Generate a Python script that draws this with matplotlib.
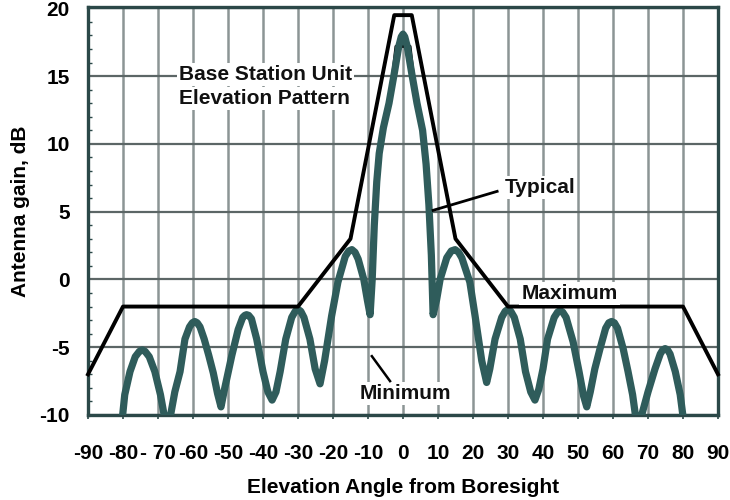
import matplotlib
matplotlib.use("Agg")
import matplotlib.pyplot as plt

plt.rcParams['font.family'] = ['Liberation Sans', 'DejaVu Sans']

# ---- data ----
x_ticks = [-90, -80, -70, -60, -50, -40, -30, -20, -10, 0, 10, 20, 30, 40, 50, 60, 70, 80, 90]
x_tick_labels = ["-90", "-80", "- 70", "-60", "-50", "-40", "-30", "-20", "-10", "0",
                 "10", "20", "30", "40", "50", "60", "70", "80", "90"]
y_ticks = [-10, -5, 0, 5, 10, 15, 20]
y_tick_labels = ["-10", "-5", "0", "5", "10", "15", "20"]

max_angle = [-90, -80, -30, -15, -2.5, 2.5, 15, 30, 80, 90]
max_gain = [-7, -2, -2, 3, 19.5, 19.5, 3, -2, -2, -7]

min_angle = [-3.6, -2.0, 2.0, 3.6]
min_gain = [13.6, 17.2, 17.2, 13.6]

typ_angle = [
    -80.3, -79.5, -78.0, -76.5, -75.3, -74.5, -73.7, -72.5, -70.9, -69.3, -67.2,
    -66.4, -65.2, -63.7, -62.3, -61.0, -60.2, -59.5, -58.8, -58.0, -56.8, -55.5, -54.2, -53.0, -52.0,
    -51.0, -48.9, -47.1, -45.8, -45.2, -44.7, -44.1, -43.3, -41.8, -40.0, -38.6, -37.4,
    -36.3, -35.1, -33.5, -31.8, -30.8, -30.0, -29.2, -28.3, -26.6, -25.1, -23.7,
    -22.4, -20.4, -18.6, -16.5, -15.5, -14.6, -13.7, -12.8, -11.2, -10.2, -9.4,
    -8.8, -8.2, -7.5, -6.8, -5.6, -4.0, -2.5, -1.2, -0.5, 0.0, 0.5, 1.2, 2.5, 4.0, 5.6, 6.6, 7.4,
    8.1, 8.6,
    9.6, 10.6, 12.5, 13.8, 14.9, 15.9, 16.8, 19.1, 20.6, 22.5, 23.9,
    24.8, 26.3, 28.2, 29.2, 30.0, 30.8, 31.8, 33.5, 35.0, 36.5, 37.7,
    38.8, 40.0, 41.3, 43.2, 44.2, 44.9, 45.6, 46.6, 48.6, 50.3, 51.6, 52.5,
    53.5, 54.8, 56.3, 57.9, 58.8, 59.6, 60.4, 61.3, 62.9, 64.3, 65.6, 66.4, 67.1,
    68.2, 70.0, 72.0, 73.5, 74.2, 74.9, 75.6, 76.3, 77.8, 79.2, 80.2,
]
typ_gain = [
    -10.5, -8.5, -6.8, -5.7, -5.3, -5.2, -5.3, -5.7, -6.8, -8.5, -11.5,
    -10.0, -8.3, -6.8, -4.4, -3.5, -3.2, -3.1, -3.2, -3.5, -4.4, -5.6, -6.9, -8.4, -9.4,
    -8.1, -5.6, -3.7, -2.8, -2.65, -2.6, -2.65, -2.9, -4.4, -6.8, -8.3, -8.9,
    -8.3, -6.8, -4.4, -2.8, -2.35, -2.2, -2.35, -2.8, -4.4, -6.6, -7.7,
    -6.0, -2.7, -0.2, 1.7, 2.1, 2.2, 2.0, 1.5, 0.0, -1.5, -2.6,
    0.0, 4.0, 7.2, 9.3, 11.2, 13.0, 15.2, 17.2, 17.9, 18.1, 17.9, 17.2, 15.2, 13.0, 11.0, 8.5, 5.5,
    1.8, -2.6,
    -1.5, 0.0, 1.6, 2.1, 2.2, 2.0, 1.6, -0.2, -2.7, -6.0, -7.6,
    -6.6, -4.4, -2.8, -2.35, -2.2, -2.35, -2.8, -4.4, -6.8, -8.3, -8.9,
    -8.1, -6.6, -4.4, -2.8, -2.4, -2.3, -2.4, -2.8, -4.6, -6.8, -8.6, -9.4,
    -8.3, -6.6, -5.1, -3.6, -3.2, -3.1, -3.2, -3.6, -5.1, -6.8, -8.5, -10.0, -11.5,
    -10.0, -8.3, -6.6, -5.5, -5.2, -5.1, -5.2, -5.5, -6.8, -8.5, -10.5,
]

# ---- figure ----
fig = plt.figure(figsize=(7.3, 5.0), dpi=100)
ax = fig.add_axes([88 / 730, 1 - 415 / 500, 630 / 730, 408 / 500])

frame_col = '#2b4848'
teal = '#2f5c5b'

ax.set_xlim(-90, 90)
ax.set_ylim(-10, 20.1)

ax.set_xticks(x_ticks)
ax.set_xticklabels(x_tick_labels)
ax.set_yticks(y_ticks)
ax.set_yticklabels(y_tick_labels)
ax.set_yticks(range(-10, 21), minor=True)

ax.xaxis.grid(True, color='#8c9595', linewidth=1.8)
ax.yaxis.grid(True, color='#5c6666', linewidth=1.6)
ax.set_axisbelow(True)

for s in ax.spines.values():
    s.set_color(frame_col)
    s.set_linewidth(2.4)

ax.tick_params(axis='x', which='major', length=3, width=1.2, color=frame_col,
               direction='out', pad=18, labelsize=15)
ax.tick_params(axis='y', which='major', length=0, pad=13, labelsize=15)
ax.tick_params(axis='y', which='minor', length=3, width=1, color=frame_col, direction='in')
for lab in ax.get_xticklabels() + ax.get_yticklabels():
    lab.set_fontweight('bold')

ax.set_xlabel("Elevation Angle from Boresight", fontsize=15, fontweight='bold', labelpad=11)
ax.set_ylabel("Antenna gain, dB", fontsize=15, fontweight='bold', labelpad=7)

# minimum envelope (mostly hidden under typical curve)
ax.plot(min_angle, min_gain, color='black', linewidth=2.2, zorder=3)
# typical pattern
ax.plot(typ_angle, typ_gain, color=teal, linewidth=5.2, solid_joinstyle='round',
        solid_capstyle='round', zorder=4)
# maximum envelope
ax.plot(max_angle, max_gain, color='black', linewidth=2.8, zorder=5, clip_on=False)

box = dict(facecolor='white', edgecolor='none', pad=1.5)
tkw = dict(fontsize=15, fontweight='bold', color='#111111', zorder=6, bbox=box)

ax.text(-64.0, 14.7, "Base Station Unit", ha='left', va='baseline', **tkw)
ax.text(-64.0, 12.95, "Elevation Pattern", ha='left', va='baseline', **tkw)
ax.text(29.0, 6.35, "Typical", ha='left', va='baseline', **tkw)
ax.text(33.8, -1.45, "Maximum", ha='left', va='baseline', **tkw)
ax.text(-12.5, -8.8, "Minimum", ha='left', va='baseline', **tkw)

# pointer lines
ax.plot([8.6, 26.9], [5.1, 6.5], color='black', linewidth=2.0, zorder=7)
ax.plot([-8.9, -3.7], [-5.66, -7.5], color='black', linewidth=1.8, zorder=7)

fig.savefig("out.png", dpi=100)
